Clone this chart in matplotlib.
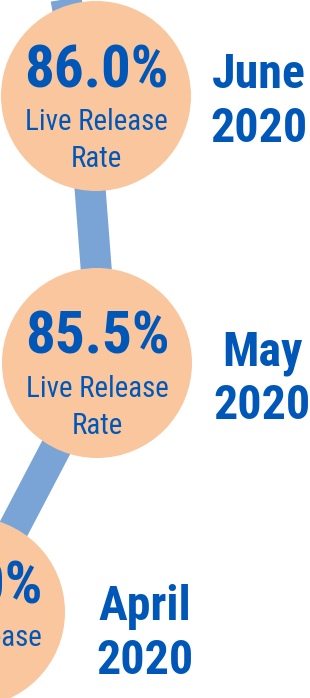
"""
Live release rate timeline (April - June 2020): peach circles strung on a
thick blue line, with the month label beside each circle.
"""
import matplotlib
matplotlib.use("Agg")
import matplotlib.pyplot as plt
from matplotlib import font_manager
from matplotlib.patches import Circle

# data
months = ["June", "May", "April"]
years = ["2020", "2020", "2020"]
rates = [86.0, 85.5, 85.0]          # April value is cut off in the original
subtitle = ["Live Release", "Rate"]

# layout (pixel coords, y down)
centers = [(96, 96), (97, 363), (-30, 612)]
label_pos = [(259, 88), (262, 365), (145, 620)]
path_x = [40, 83, 103, -30]
path_y = [-150, 96, 358, 612]

PEACH = "#FAC69E"
BLUE = "#0057B8"
LINE = "#7BA4D6"
R = 95

names = {f.name for f in font_manager.fontManager.ttflist}
FONT = next((n for n in ["Liberation Sans Narrow", "Roboto Condensed",
                         "Open Sans Condensed", "Liberation Sans"] if n in names),
            "DejaVu Sans")


def pt(px):
    return px * 72 / 100


fig = plt.figure(figsize=(3.1, 6.98), dpi=100)
ax = fig.add_axes([0, 0, 1, 1])
ax.set_xlim(0, 310)
ax.set_ylim(698, 0)
ax.axis("off")

ax.plot(path_x, path_y, color=LINE, lw=pt(31), solid_joinstyle="miter",
        solid_capstyle="butt", zorder=1)

for (cx, cy), rate, (lx, ly), m, yr in zip(centers, rates, label_pos, months, years):
    ax.add_patch(Circle((cx, cy), R, facecolor=PEACH, edgecolor="none", zorder=2))
    ax.text(cx, cy - 9, f"{rate:.1f}%", ha="center", va="baseline",
            fontsize=pt(59), fontweight="bold", color=BLUE, family=FONT, zorder=3)
    ax.text(cx, cy + 34, subtitle[0], ha="center", va="baseline",
            fontsize=pt(29), color=BLUE, family=FONT, zorder=3)
    ax.text(cx, cy + 71, subtitle[1], ha="center", va="baseline",
            fontsize=pt(29), color=BLUE, family=FONT, zorder=3)
    ax.text(lx, ly, m, ha="center", va="baseline", fontsize=pt(48),
            fontweight="bold", color=BLUE, family=FONT)
    ax.text(lx, ly + 54, yr, ha="center", va="baseline", fontsize=pt(48),
            fontweight="bold", color=BLUE, family=FONT)

fig.savefig("out.png", dpi=100)
